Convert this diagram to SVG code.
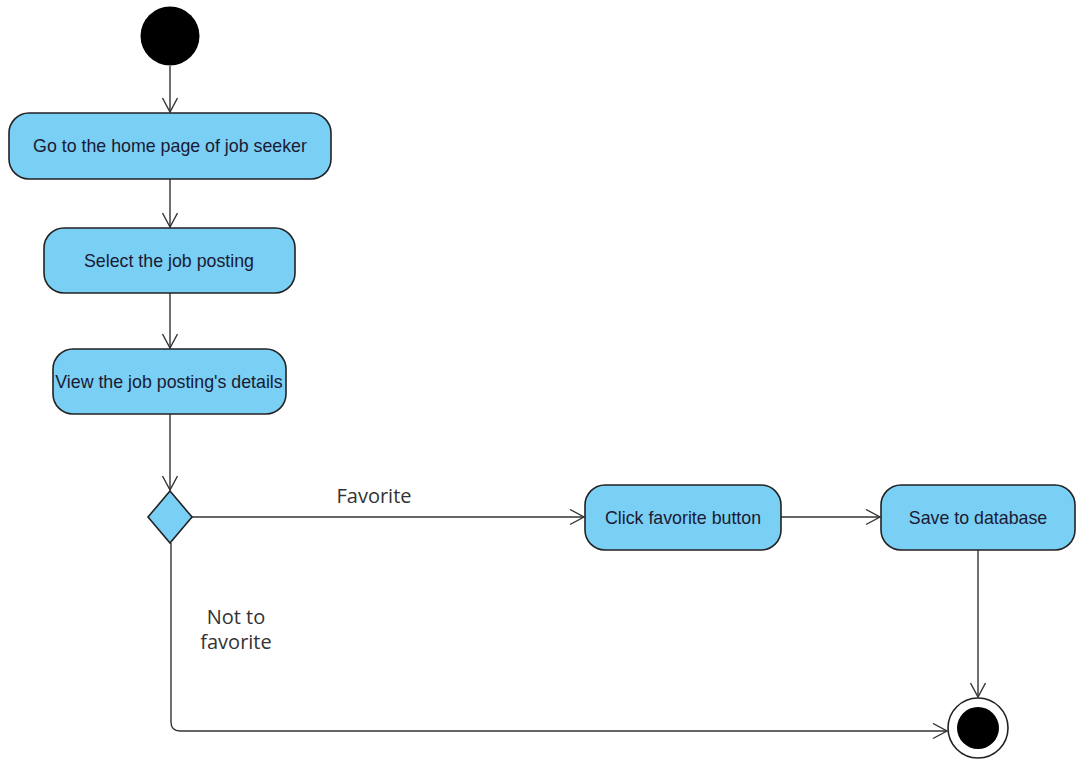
<svg xmlns="http://www.w3.org/2000/svg" width="1078" height="760" viewBox="0 0 1078 760">
  <style>
    .act { fill: #7acff4; stroke: #222; stroke-width: 1.6; }
    .act-text { font-family: "Liberation Sans", Arial, sans-serif; font-size: 17.8px; fill: #1a1a33; text-anchor: middle; dominant-baseline: central; }
    .edge { fill: none; stroke: #333; stroke-width: 1.4; marker-end: url(#open-arrow); }
    .guard { font-family: "Open Sans", "Noto Sans", sans-serif; font-size: 20px; fill: #333; text-anchor: middle; }
  </style>
  <defs>
    <marker id="open-arrow" markerUnits="userSpaceOnUse" markerWidth="18" markerHeight="18" refX="15" refY="8" orient="auto">
      <path d="M1,0.5 L15,8 L1,15.5" fill="none" stroke="#333" stroke-width="1.4"/>
    </marker>
  </defs>
  <rect width="1078" height="760" fill="#ffffff"/>

  <!-- transitions -->
  <g id="connectors">
    <path class="edge" d="M170,66 L170,112"/>
    <path class="edge" d="M170,179 L170,227"/>
    <path class="edge" d="M170,293 L170,348"/>
    <path class="edge" d="M170,414 L170,490"/>
    <path class="edge" d="M192,517 L584,517"/>
    <path class="edge" d="M781,517 L880,517"/>
    <path class="edge" d="M978,550 L978,697"/>
    <path class="edge" d="M171,543 L171,722 Q171,731 180,731 L947,731"/>
    <text class="guard" x="374" y="503">Favorite</text>
    <text class="guard" x="236" y="624">Not to</text>
    <text class="guard" x="236" y="649">favorite</text>
  </g>

  <g id="start">
    <circle cx="170" cy="36" r="29.5" fill="#000"/>
  </g>

  <g id="home-page">
    <rect class="act" x="9" y="113" width="322" height="66" rx="20"/>
    <text class="act-text" x="170" y="146">Go to the home page of job seeker</text>
  </g>

  <g id="select-posting">
    <rect class="act" x="44" y="228" width="251" height="65" rx="20"/>
    <text class="act-text" x="169" y="261">Select the job posting</text>
  </g>

  <g id="view-details">
    <rect class="act" x="53" y="349" width="233" height="65" rx="20"/>
    <text class="act-text" x="169" y="382">View the job posting's details</text>
  </g>

  <g id="decision">
    <path class="act" d="M170,491 L192,517 L170,543 L148,517 Z"/>
  </g>

  <g id="click-favorite">
    <rect class="act" x="585" y="485" width="196" height="65" rx="20"/>
    <text class="act-text" x="683" y="518">Click favorite button</text>
  </g>

  <g id="save-database">
    <rect class="act" x="881" y="485" width="194" height="65" rx="20"/>
    <text class="act-text" x="978" y="518">Save to database</text>
  </g>

  <g id="end">
    <circle cx="978" cy="728" r="30" fill="#fff" stroke="#222" stroke-width="1.6"/>
    <circle cx="978" cy="728" r="21" fill="#000"/>
  </g>
</svg>
